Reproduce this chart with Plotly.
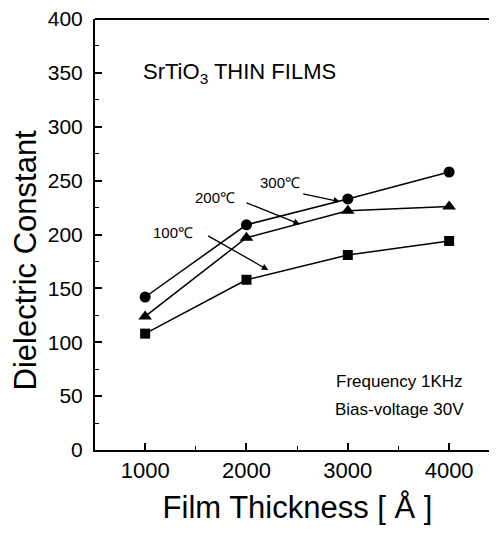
import plotly.graph_objects as go

thickness = [1000, 2000, 3000, 4000]
t100 = [108, 158, 181, 194]
t200 = [124, 197, 222, 226]
t300 = [142, 209, 233, 258]
y_ticks = [0, 50, 100, 150, 200, 250, 300, 350, 400]
x_ticks = [1000, 2000, 3000, 4000]

FONT = "Liberation Sans, Arial, sans-serif"

fig = go.Figure()
for vals, sym, sz in [(t300, "circle", 11), (t200, "triangle-up", 12), (t100, "square", 10)]:
    fig.add_trace(go.Scatter(
        x=thickness, y=vals, mode="lines+markers",
        line=dict(color="black", width=1.5),
        marker=dict(symbol=sym, size=sz, color="black"),
        showlegend=False))

# labels with arrows (tail -> head in data coords)
labels = [
    ("300℃", 2331, 248, 2545, 238, 2923, 230.5),
    ("200℃", 1689, 234, 1985, 230, 2528, 209.5),
    ("100℃", 1275, 202, 1607, 199.5, 2215, 167),
]
for txt, tx, ty, ax, ay, hx, hy in labels:
    fig.add_annotation(x=tx, y=ty, text=txt, showarrow=False,
                       font=dict(family=FONT, size=15, color="black"))
    fig.add_annotation(x=hx, y=hy, ax=ax, ay=ay, axref="x", ayref="y",
                       xref="x", yref="y", text="", showarrow=True,
                       arrowhead=2, arrowsize=1, arrowwidth=1.3, arrowcolor="black")

fig.add_annotation(x=959, y=350, xanchor="left", text="SrTiO<sub>3</sub> THIN FILMS",
                   showarrow=False, font=dict(family=FONT, size=22, color="black"))
fig.add_annotation(x=3515, y=64, text="Frequency 1KHz", showarrow=False,
                   font=dict(family=FONT, size=17, color="black"))
fig.add_annotation(x=3515, y=38, text="Bias-voltage 30V", showarrow=False,
                   font=dict(family=FONT, size=17, color="black"))

# top frame line
fig.add_shape(type="line", xref="paper", yref="paper", x0=0, x1=1, y0=1, y1=1,
              line=dict(color="black", width=2))

fig.update_xaxes(range=[505, 4502], tickvals=x_ticks, ticks="inside", ticklen=7,
                 tickwidth=1.5, tickcolor="black", showline=True, linecolor="black",
                 linewidth=2, showgrid=False, zeroline=False, automargin=False,
                 minor=dict(ticks="inside", ticklen=4, tickwidth=1.2, tickcolor="black",
                            dtick=500, tick0=500, showgrid=False),
                 tickfont=dict(family=FONT, size=22, color="black"),
                 title=dict(text="Film Thickness [ Å ]", standoff=14,
                            font=dict(family=FONT, size=31, color="black")))
fig.update_yaxes(range=[0, 400], tickvals=y_ticks, ticks="inside", ticklen=7,
                 tickwidth=1.5, tickcolor="black", showline=True, linecolor="black",
                 linewidth=2, showgrid=False, zeroline=False, automargin=False,
                 ticklabelstandoff=6, ticklabeloverflow="allow",
                 minor=dict(ticks="inside", ticklen=4, tickwidth=1.2, tickcolor="black",
                            dtick=25, tick0=0, showgrid=False),
                 tickfont=dict(family=FONT, size=21, color="black"),
                 title=dict(text="Dielectric Constant" + "&nbsp;" * 6 + "\u200b", standoff=4,
                            font=dict(family=FONT, size=31, color="black")))

fig.update_layout(width=497, height=533, margin=dict(l=87, r=5, t=11, b=91),
                  plot_bgcolor="white", paper_bgcolor="white")
fig.write_html("out.html")
